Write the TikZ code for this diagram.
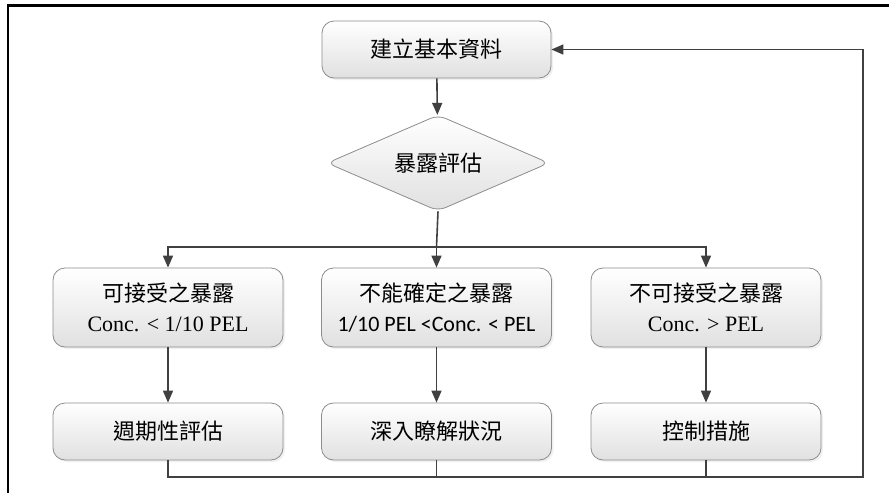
\documentclass[tikz,border=0pt]{standalone}
\usepackage{fontspec}
\setmainfont{Liberation Serif}
\newfontfamily\cjk{Noto Sans CJK TC}
\newfontfamily\calibri{Carlito}
\usetikzlibrary{arrows.meta, shapes.geometric, shadows}

\tikzset{
    stepbox/.style = {draw = black!45, rounded corners = 6pt, top color = white, bottom color = black!12,
        minimum width = 115pt, align = center, inner sep = 2pt,
        drop shadow = {opacity = 0.12, shadow xshift = 1pt, shadow yshift = -1pt}},
    casebox/.style = {stepbox, minimum height = 39.5pt},
    actbox/.style = {stepbox, minimum height = 28.5pt},
    decision/.style = {diamond, draw = black!45, rounded corners = 4pt, top color = white, bottom color = black!12,
        minimum width = 111pt, minimum height = 48pt, aspect = 2.3, inner sep = 0pt},
    flow/.style = {draw = black!75, line width = 0.8pt},
    flowarrow/.style = {flow, -{Triangle[length = 6pt, width = 5pt]}}
}

\begin{document}
\begin{tikzpicture}[x = 0.5pt, y = -0.5pt, font = \fontsize{11}{15}\selectfont]
            \useasboundingbox (0, 0) rectangle (889, 493);
            \draw[black, line width = 1.2pt] (8, 493) -- (8, 5.5) -- (889, 5.5);

            \coordinate (split) at (436.5, 247);
            \coordinate (loop_corner) at (863, 477);

            \node[actbox, minimum width = 114.5pt] (basic_data) at (436.5, 49.5) {\cjk 建立基本資料};
            \node[decision] (exposure_eval) at (438, 163) {\cjk 暴露評估};

            \node[casebox] (case_ok) at (168, 307.5) {{\cjk 可接受之暴露}\\Conc. < 1/10 PEL};
            \node[casebox] (case_unsure) at (436.5, 307.5) {{\cjk 不能確定之暴露}\\{\calibri 1/10 PEL <Conc. < PEL}};
            \node[casebox] (case_bad) at (706, 307.5) {{\cjk 不可接受之暴露}\\Conc. > PEL};

            \node[actbox] (act_periodic) at (168, 431.5) {\cjk 週期性評估};
            \node[actbox] (act_study) at (436.5, 431.5) {\cjk 深入瞭解狀況};
            \node[actbox] (act_control) at (706, 431.5) {\cjk 控制措施};

            \draw[flowarrow] (basic_data) -- (exposure_eval);
            \draw[flow] (exposure_eval.south) -- (split);
            \draw[flowarrow] (split) -| (case_ok.north);
            \draw[flowarrow] (split) -- (case_unsure.north);
            \draw[flowarrow] (split) -| (case_bad.north);

            \draw[flowarrow] (case_ok) -- (act_periodic);
            \draw[flowarrow] (case_unsure) -- (act_study);
            \draw[flowarrow] (case_bad) -- (act_control);

            \draw[flowarrow] (act_periodic.south) |- (loop_corner) |- (basic_data.east);
            \draw[flow] (act_study.south) -- (act_study.south |- loop_corner);
            \draw[flow] (act_control.south) -- (act_control.south |- loop_corner);
        \end{tikzpicture}
\end{document}
